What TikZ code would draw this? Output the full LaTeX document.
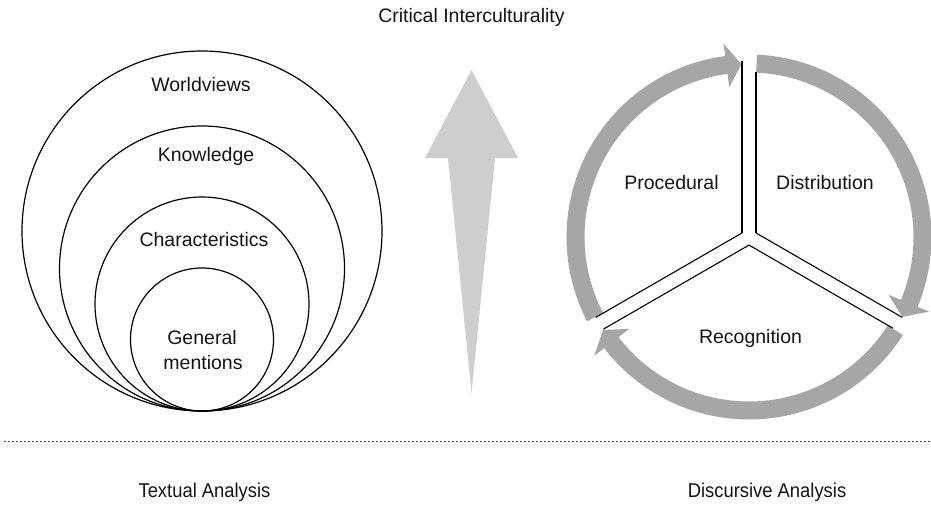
\documentclass[tikz,border=0pt]{standalone}
\usepackage{fontspec}
\usepackage{graphicx}
\setmainfont{Liberation Sans}
\definecolor{ringgray}{RGB}{166,166,166}
\definecolor{arrowgray}{RGB}{206,206,206}
\definecolor{inkblack}{RGB}{20,20,20}
\begin{document}
\begin{tikzpicture}[x=1pt,y=1pt,
  lbl/.style={font=\fontsize{19.5}{24}\selectfont, text=inkblack, anchor=base, inner sep=0pt},
  footlbl/.style={font=\fontsize{20}{24}\selectfont, text=inkblack, anchor=base, inner sep=0pt},
  level/.style={draw=black, line width=1.2pt, circle, inner sep=0pt, outer sep=0pt, minimum size=#1},
  divider/.style={draw=black, line width=1.1pt},
  ringpiece/.style={fill=ringgray, draw=none},
  separator/.style={draw=black!75, line width=0.6pt, dash pattern=on 2.4pt off 1.6pt}]
\useasboundingbox (0,0) rectangle (931,505);
\fill[white] (0,0) rectangle (931,505);

% title
\node[lbl] (title) at (471.5,482) {Critical Interculturality};

% nested circles, all touching at one bottom point
\node[level=360pt] (worldviews) at (202,274) {};
\node[level=285pt] (knowledge) at (202,236.5) {};
\node[level=214pt] (characteristics) at (202,201) {};
\node[level=143pt] (general) at (202,165.5) {};
\node[lbl] (tworld) at (201,413) {Worldviews};
\node[lbl] (tknow) at (206,343) {Knowledge};
\node[lbl] (tchar) at (204,258) {Characteristics};
\node[lbl] (tgen1) at (202,160) {General};
\node[lbl] (tgen2) at (203,135) {mentions};

% rising arrow in the middle
\fill[arrowgray] (471.5,435) -- (518,347) -- (495,347) -- (471.5,112)
  -- (448,347) -- (425,347) -- cycle;
\coordinate (arrowtip) at (471.5,435);

% cycle of three curved arrows on the right
\begin{scope}[shift={(749,268)}]
  \foreach \s in {207.5,87.5,-32.5} {
    \pgfmathsetmacro\b{\s-110}
    \pgfmathsetmacro\t{\s-115}
    \fill[ringpiece] (\s:182.5) arc[start angle=\s, end angle=\b, radius=182.5]
      -- (\b:195) -- (\t:173) -- (\b:151) -- (\b:164.5)
      arc[start angle=\b, end angle=\s, radius=164.5] -- cycle;
  }
  % three double dividers meeting in the middle
  \draw[divider] (-7,4.04) -- (-7,176);
  \draw[divider] (7,4.04) -- (7,165);
  \draw[divider] (-7,4.04) -- (-153.3,-80.4);
  \draw[divider] (0,-8.08) -- (-145.5,-92.1);
  \draw[divider] (7,4.04) -- (153.3,-80.4);
  \draw[divider] (0,-8.08) -- (143.7,-91.1);
\end{scope}
\node[lbl] (tproc) at (671.5,315) {Procedural};
\node[lbl] (tdist) at (825,315) {Distribution};
\node[lbl] (trec) at (750.5,161) {Recognition};

% separator and analysis captions
\coordinate (sepL) at (4,64);
\coordinate (sepR) at (931,64);
\draw[separator] (sepL) -- (sepR);
\node[footlbl] (textual) at (204.5,7) {\scalebox{0.92}[1]{Textual Analysis}};
\node[footlbl] (discursive) at (767,7) {\scalebox{0.92}[1]{Discursive Analysis}};
\end{tikzpicture}
\end{document}
